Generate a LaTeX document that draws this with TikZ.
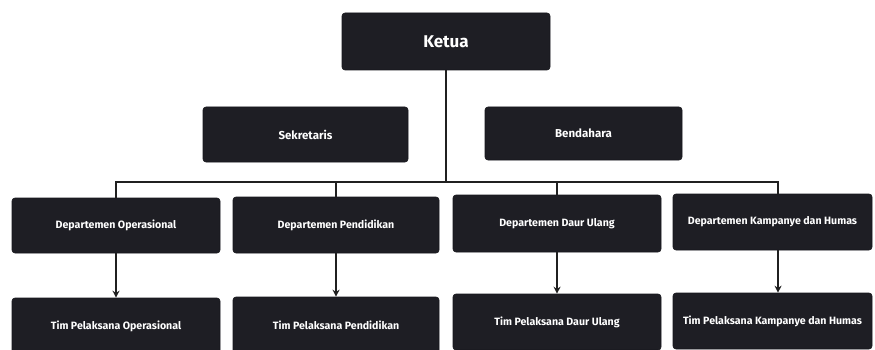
\documentclass[tikz,border=0pt]{standalone}
\usepackage{fontspec}
\setmainfont{Fira Sans}
\usetikzlibrary{arrows.meta}
\definecolor{boxfill}{HTML}{1E1E24}
\definecolor{linecol}{HTML}{202020}
\tikzset{
  orgbox/.style={draw=boxfill!80!black, fill=boxfill, rounded corners=3pt, text=white,
    font=\bfseries\fontsize{10.6}{12}\selectfont, inner sep=2pt, line width=0.6pt},
  topbox/.style={orgbox, font=\bfseries\fontsize{17}{19}\selectfont},
  midbox/.style={orgbox, font=\bfseries\fontsize{11.5}{13}\selectfont},
  conn/.style={draw=linecol, line width=1.3pt},
  arr/.style={conn, -{Stealth[length=7pt,width=7pt]}}
}
\begin{document}
\begin{tikzpicture}[x=1pt,y=-1pt]
\useasboundingbox (0,0) rectangle (875,350);
\clip (0,0) rectangle (875,350);
\fill[white] (0,0) rectangle (875,350);
% top
\node[topbox, minimum width=208pt, minimum height=57pt] (ketua) at (446,41.5) {Ketua};
\node[midbox, minimum width=205pt, minimum height=55pt] (sek) at (305.5,134.5) {Sekretaris};
\node[midbox, minimum width=197pt, minimum height=53pt] (ben) at (583.5,133.5) {Bendahara};
% departments
\node[orgbox, minimum width=208pt, minimum height=55pt] (d1) at (116,225.5) {Departemen Operasional};
\node[orgbox, minimum width=206pt, minimum height=56pt] (d2) at (336,225) {Departemen Pendidikan};
\node[orgbox, minimum width=208pt, minimum height=57pt] (d3) at (557,223.5) {Departemen Daur Ulang};
\node[orgbox, minimum width=199pt, minimum height=56pt] (d4) at (772.5,222) {Departemen Kampanye dan Humas};
% teams
\node[orgbox, minimum width=208pt, minimum height=56pt] (t1) at (116,326) {Tim Pelaksana Operasional};
\node[orgbox, minimum width=206pt, minimum height=56pt] (t2) at (336,325) {Tim Pelaksana Pendidikan};
\node[orgbox, minimum width=208pt, minimum height=56pt] (t3) at (557,322) {Tim Pelaksana Daur Ulang};
\node[orgbox, minimum width=199pt, minimum height=56pt] (t4) at (772.5,321) {Tim Pelaksana Kampanye dan Humas};
% bus
\coordinate (bus) at (446,182);
\coordinate (d4top) at ([xshift=5.5pt]d4.north);
\coordinate (t4top) at ([xshift=5.5pt]t4.north);
\coordinate (d4bot) at ([xshift=5.5pt]d4.south);
\draw[conn] (ketua.south) -- (bus);
\draw[conn] (d1.north) -- (d1.north |- bus) -- (d4top |- bus) -- (d4top);
\draw[conn] (d2.north) -- (d2.north |- bus);
\draw[conn] (d3.north) -- (d3.north |- bus);
\draw[arr] (d1.south) -- (t1.north);
\draw[arr] (d2.south) -- (t2.north);
\draw[arr] (d3.south) -- (t3.north);
\draw[arr] (d4bot) -- (t4top);
\end{tikzpicture}
\end{document}
